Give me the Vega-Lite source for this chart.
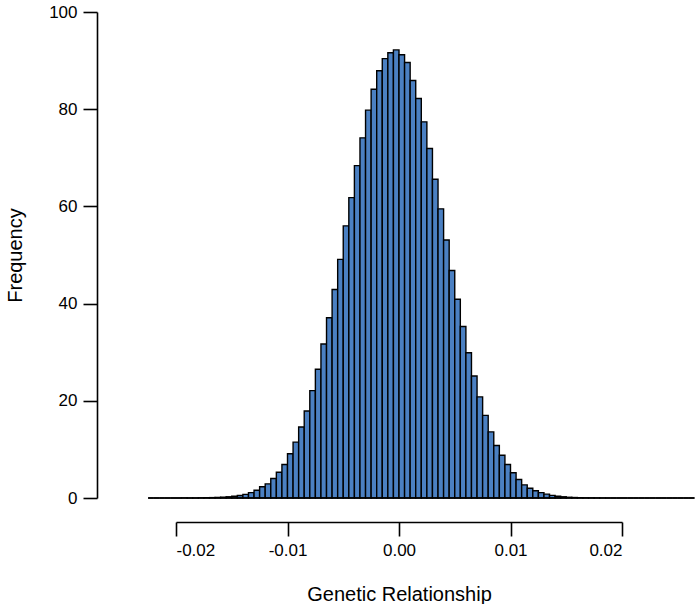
{
  "$schema": "https://vega.github.io/schema/vega-lite/v6.json",
  "width": 446,
  "height": 486,
  "padding": {"left": 5, "top": 3, "right": 0, "bottom": 0},
  "background": "white",
  "config": {
    "view": {"stroke": null},
    "locale": {"number": {"decimal": ".", "thousands": ",", "grouping": [3], "currency": ["$", ""], "minus": "-"}},
    "axis": {
      "domainColor": "black", "tickColor": "black", "labelColor": "black", "titleColor": "black",
      "labelFont": "Liberation Sans", "titleFont": "Liberation Sans",
      "labelFontSize": 17, "titleFontSize": 20, "titleFontWeight": "normal",
      "grid": false, "domainWidth": 1.6, "tickWidth": 1.6, "tickSize": 14
    }
  },
  "data": {"values": [
    {"start": -0.0225, "end": -0.022, "count": 0},
    {"start": -0.022, "end": -0.0215, "count": 0},
    {"start": -0.0215, "end": -0.021, "count": 0},
    {"start": -0.021, "end": -0.0205, "count": 0},
    {"start": -0.0205, "end": -0.02, "count": 0},
    {"start": -0.02, "end": -0.0195, "count": 0},
    {"start": -0.0195, "end": -0.019, "count": 0.02},
    {"start": -0.019, "end": -0.0185, "count": 0.02},
    {"start": -0.0185, "end": -0.018, "count": 0.03},
    {"start": -0.018, "end": -0.0175, "count": 0.04},
    {"start": -0.0175, "end": -0.017, "count": 0.06},
    {"start": -0.017, "end": -0.0165, "count": 0.08},
    {"start": -0.0165, "end": -0.016, "count": 0.12},
    {"start": -0.016, "end": -0.0155, "count": 0.17},
    {"start": -0.0155, "end": -0.015, "count": 0.25},
    {"start": -0.015, "end": -0.0145, "count": 0.35},
    {"start": -0.0145, "end": -0.014, "count": 0.5},
    {"start": -0.014, "end": -0.0135, "count": 0.75},
    {"start": -0.0135, "end": -0.013, "count": 1.1},
    {"start": -0.013, "end": -0.0125, "count": 1.6},
    {"start": -0.0125, "end": -0.012, "count": 2.3},
    {"start": -0.012, "end": -0.0115, "count": 2.9},
    {"start": -0.0115, "end": -0.011, "count": 4.0},
    {"start": -0.011, "end": -0.0105, "count": 5.3},
    {"start": -0.0105, "end": -0.01, "count": 6.9},
    {"start": -0.01, "end": -0.0095, "count": 9.1},
    {"start": -0.0095, "end": -0.009, "count": 11.5},
    {"start": -0.009, "end": -0.0085, "count": 14.6},
    {"start": -0.0085, "end": -0.008, "count": 17.9},
    {"start": -0.008, "end": -0.0075, "count": 22.1},
    {"start": -0.0075, "end": -0.007, "count": 26.5},
    {"start": -0.007, "end": -0.0065, "count": 31.7},
    {"start": -0.0065, "end": -0.006, "count": 37.1},
    {"start": -0.006, "end": -0.0055, "count": 42.9},
    {"start": -0.0055, "end": -0.005, "count": 49.1},
    {"start": -0.005, "end": -0.0045, "count": 56.0},
    {"start": -0.0045, "end": -0.004, "count": 61.8},
    {"start": -0.004, "end": -0.0035, "count": 68.4},
    {"start": -0.0035, "end": -0.003, "count": 74.1},
    {"start": -0.003, "end": -0.0025, "count": 79.8},
    {"start": -0.0025, "end": -0.002, "count": 84.1},
    {"start": -0.002, "end": -0.0015, "count": 87.9},
    {"start": -0.0015, "end": -0.001, "count": 90.4},
    {"start": -0.001, "end": -0.0005, "count": 91.6},
    {"start": -0.0005, "end": 0, "count": 92.2},
    {"start": 0, "end": 0.0005, "count": 91.2},
    {"start": 0.0005, "end": 0.001, "count": 89.6},
    {"start": 0.001, "end": 0.0015, "count": 85.9},
    {"start": 0.0015, "end": 0.002, "count": 82.2},
    {"start": 0.002, "end": 0.0025, "count": 77.4},
    {"start": 0.0025, "end": 0.003, "count": 71.9},
    {"start": 0.003, "end": 0.0035, "count": 65.6},
    {"start": 0.0035, "end": 0.004, "count": 59.5},
    {"start": 0.004, "end": 0.0045, "count": 53.1},
    {"start": 0.0045, "end": 0.005, "count": 46.8},
    {"start": 0.005, "end": 0.0055, "count": 40.9},
    {"start": 0.0055, "end": 0.006, "count": 35.3},
    {"start": 0.006, "end": 0.0065, "count": 29.9},
    {"start": 0.0065, "end": 0.007, "count": 25.1},
    {"start": 0.007, "end": 0.0075, "count": 20.8},
    {"start": 0.0075, "end": 0.008, "count": 17.0},
    {"start": 0.008, "end": 0.0085, "count": 13.6},
    {"start": 0.0085, "end": 0.009, "count": 10.8},
    {"start": 0.009, "end": 0.0095, "count": 8.8},
    {"start": 0.0095, "end": 0.01, "count": 6.9},
    {"start": 0.01, "end": 0.0105, "count": 5.2},
    {"start": 0.0105, "end": 0.011, "count": 3.8},
    {"start": 0.011, "end": 0.0115, "count": 2.7},
    {"start": 0.0115, "end": 0.012, "count": 2.0},
    {"start": 0.012, "end": 0.0125, "count": 1.5},
    {"start": 0.0125, "end": 0.013, "count": 1.1},
    {"start": 0.013, "end": 0.0135, "count": 0.8},
    {"start": 0.0135, "end": 0.014, "count": 0.55},
    {"start": 0.014, "end": 0.0145, "count": 0.35},
    {"start": 0.0145, "end": 0.015, "count": 0.25},
    {"start": 0.015, "end": 0.0155, "count": 0.15},
    {"start": 0.0155, "end": 0.016, "count": 0.1},
    {"start": 0.016, "end": 0.0165, "count": 0.06},
    {"start": 0.0165, "end": 0.017, "count": 0.04},
    {"start": 0.017, "end": 0.0175, "count": 0.03},
    {"start": 0.0175, "end": 0.018, "count": 0.02},
    {"start": 0.018, "end": 0.0185, "count": 0.01},
    {"start": 0.0185, "end": 0.019, "count": 0},
    {"start": 0.019, "end": 0.0195, "count": 0},
    {"start": 0.0195, "end": 0.02, "count": 0},
    {"start": 0.02, "end": 0.0205, "count": 0},
    {"start": 0.0205, "end": 0.021, "count": 0},
    {"start": 0.021, "end": 0.0215, "count": 0},
    {"start": 0.0215, "end": 0.022, "count": 0},
    {"start": 0.022, "end": 0.0225, "count": 0},
    {"start": 0.0225, "end": 0.023, "count": 0},
    {"start": 0.023, "end": 0.0235, "count": 0},
    {"start": 0.0235, "end": 0.024, "count": 0},
    {"start": 0.024, "end": 0.0245, "count": 0},
    {"start": 0.0245, "end": 0.025, "count": 0},
    {"start": 0.025, "end": 0.0255, "count": 0},
    {"start": 0.0255, "end": 0.026, "count": 0},
    {"start": 0.026, "end": 0.0265, "count": 0}
  ]},
  "layer": [
    {
      "mark": {"type": "bar", "fill": "#4B80C2", "stroke": "black", "strokeWidth": 1.4, "clip": false},
      "encoding": {
        "x": {
          "field": "start", "type": "quantitative",
          "scale": {"domain": [-0.02, 0.02], "nice": false, "zero": false},
          "axis": {"values": [-0.02, -0.01, 0, 0.01, 0.02], "format": ".2f", "offset": 24, "labelPadding": 6, "titlePadding": 26, "title": "Genetic Relationship"}
        },
        "x2": {"field": "end"},
        "y": {
          "field": "count", "type": "quantitative",
          "scale": {"domain": [0, 100], "nice": false},
          "axis": {"values": [0, 20, 40, 60, 80, 100], "offset": 79, "labelPadding": 6, "titlePadding": 23, "title": "Frequency"}
        },
        "y2": {"datum": 0}
      }
    },
    {
      "mark": {"type": "rule", "stroke": "black", "strokeWidth": 1.6, "clip": false},
      "encoding": {
        "x": {"aggregate": "min", "field": "start", "type": "quantitative"},
        "x2": {"aggregate": "max", "field": "end"},
        "y": {"datum": 0}
      }
    }
  ]
}
